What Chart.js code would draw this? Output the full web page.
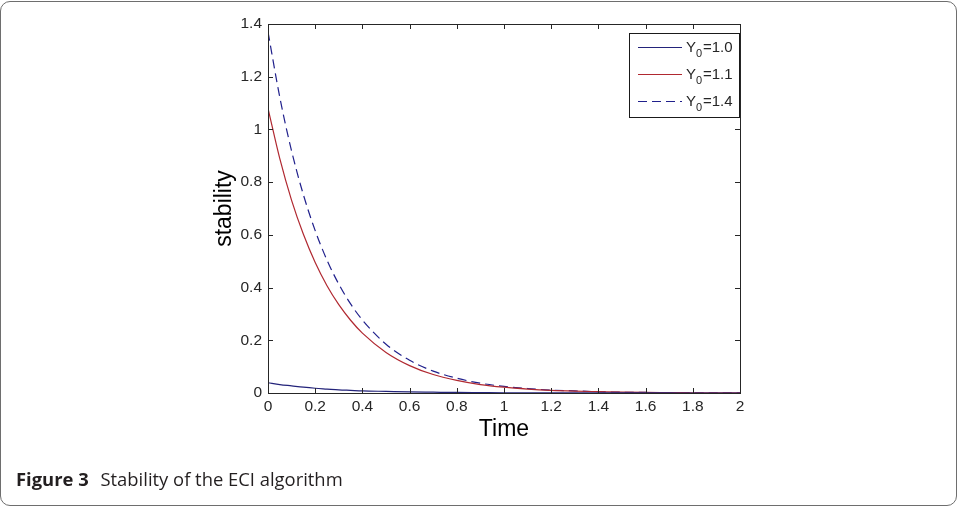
<!DOCTYPE html>
<html>
<head>
<meta charset="utf-8">
<script src="https://cdn.jsdelivr.net/npm/chart.js@4.4.1/dist/chart.umd.min.js"></script>
<style>
  body { margin: 0; background: #fff; }
  #frame {
    position: absolute; left: 0; top: 1px; width: 955px; height: 503px;
    border: 1px solid #6e6e6e; border-radius: 10px; box-sizing: content-box;
  }
  #wrap { position: absolute; left: 0; top: 0; width: 958px; height: 507px; }
  #caption {
    position: absolute; left: 16px; top: 466px;
    font-family: "Open Sans", sans-serif; font-size: 18.4px; color: #231f20;
  }
  #caption b { margin-right: 7px; }
</style>
</head>
<body>
<div id="frame"></div>
<div id="wrap"><canvas id="grafico" width="958" height="507"></canvas></div>
<div id="caption"><b>Figure 3</b> Stability of the ECI algorithm</div>
<script>
// dados
const tempo = [0, 0.05, 0.1, 0.15, 0.2, 0.25, 0.3, 0.35, 0.4, 0.5, 0.6, 0.7, 0.8, 0.9, 1.0,
  1.1, 1.2, 1.3, 1.4, 1.5, 1.6, 1.7, 1.8, 1.9, 2.0];
const y10 = [0.039, 0.032, 0.027, 0.022, 0.018, 0.015, 0.012, 0.010, 0.008, 0.006, 0.004, 0.003, 0.002, 0.0015, 0.001,
  0.0008, 0.0005, 0.0004, 0.0003, 0.0002, 0.0001, 0.0001, 0, 0, 0];
const y11 = [1.08, 0.889, 0.731, 0.602, 0.495, 0.407, 0.335, 0.276, 0.227, 0.154, 0.104, 0.070, 0.048, 0.032, 0.022,
  0.015, 0.010, 0.007, 0.005, 0.003, 0.002, 0.0015, 0.001, 0.0007, 0.0004];
const y14 = [1.37, 1.122, 0.918, 0.752, 0.616, 0.504, 0.413, 0.338, 0.277, 0.185, 0.124, 0.083, 0.056, 0.037, 0.025,
  0.017, 0.011, 0.008, 0.005, 0.003, 0.002, 0.0015, 0.001, 0.0007, 0.0004];
const legendas = ['1.0', '1.1', '1.4'];
const xTicks = ['0', '0.2', '0.4', '0.6', '0.8', '1', '1.2', '1.4', '1.6', '1.8', '2'];
const yTicks = ['0', '0.2', '0.4', '0.6', '0.8', '1', '1.2', '1.4'];

const pontos = arr => arr.map((v, i) => ({ x: tempo[i], y: v }));
const corEixo = '#262626';
const fonte = '"Liberation Sans", Arial, sans-serif';

// caixa, ticks para dentro e legenda no estilo matlab
const estiloMatlab = {
  id: 'estiloMatlab',
  afterDatasetsDraw(chart) {
    const ctx = chart.ctx;
    const a = chart.chartArea;
    const xs = chart.scales.x, ys = chart.scales.y;
    ctx.save();
    ctx.strokeStyle = corEixo;
    ctx.lineWidth = 1;
    ctx.strokeRect(Math.round(a.left) + 0.5, Math.round(a.top) + 0.5,
      Math.round(a.right - a.left), Math.round(a.bottom - a.top));
    ctx.beginPath();
    xs.ticks.forEach(t => {
      const px = Math.round(xs.getPixelForValue(t.value)) + 0.5;
      ctx.moveTo(px, a.bottom); ctx.lineTo(px, a.bottom - 5);
      ctx.moveTo(px, a.top); ctx.lineTo(px, a.top + 5);
    });
    ys.ticks.forEach(t => {
      const py = Math.round(ys.getPixelForValue(t.value)) + 0.5;
      ctx.moveTo(a.left, py); ctx.lineTo(a.left + 5, py);
      ctx.moveTo(a.right, py); ctx.lineTo(a.right - 5, py);
    });
    ctx.stroke();

    // legenda
    const bx = 629.5, by = 33.5, bw = 110, bh = 84;
    ctx.fillStyle = '#fff';
    ctx.fillRect(bx, by, bw, bh);
    ctx.strokeStyle = '#1a1a1a';
    ctx.strokeRect(bx, by, bw, bh);
    const linhas = [47.5, 74.5, 101.5];
    chart.data.datasets.forEach((ds, i) => {
      const yy = linhas[i];
      ctx.strokeStyle = ds.borderColor;
      ctx.lineWidth = 1.2;
      ctx.setLineDash(ds.borderDash || []);
      ctx.beginPath();
      ctx.moveTo(638, yy); ctx.lineTo(682, yy);
      ctx.stroke();
      ctx.setLineDash([]);
      ctx.fillStyle = corEixo;
      ctx.textBaseline = 'alphabetic';
      ctx.textAlign = 'left';
      ctx.font = '15px ' + fonte;
      ctx.fillText('Y', 686, yy + 4);
      ctx.font = '11px ' + fonte;
      ctx.fillText('0', 696, yy + 9);
      ctx.font = '15px ' + fonte;
      ctx.fillText('=' + legendas[i], 703, yy + 4);
    });
    ctx.restore();
  }
};

const ctx = document.getElementById('grafico').getContext('2d');
new Chart(ctx, {
  type: 'line',
  data: {
    datasets: [{
      label: 'Y0=' + legendas[0],
      data: pontos(y10),
      borderColor: '#23237a',
      borderWidth: 1.2
    }, {
      label: 'Y0=' + legendas[1],
      data: pontos(y11),
      borderColor: '#b02830',
      borderWidth: 1.2
    }, {
      label: 'Y0=' + legendas[2],
      data: pontos(y14),
      borderColor: '#20208c',
      borderWidth: 1.2,
      borderDash: [9, 5]
    }]
  },
  options: {
    responsive: false,
    animation: false,
    elements: { point: { radius: 0 }, line: { cubicInterpolationMode: 'monotone' } },
    layout: { padding: { left: 207, right: 218, top: 24, bottom: 60 } },
    plugins: { legend: { display: false }, tooltip: { enabled: false } },
    scales: {
      x: {
        type: 'linear', min: 0, max: 2,
        afterFit: s => { s.height = 54; },
        grid: { display: false, drawTicks: false },
        border: { display: false },
        ticks: {
          stepSize: 0.2, padding: 4, color: corEixo, maxRotation: 0,
          font: { family: fonte, size: 15.5 },
          callback: (v, i) => xTicks[i]
        },
        title: {
          display: true, text: 'Time', color: '#000',
          font: { family: fonte, size: 23 }
        }
      },
      y: {
        min: 0, max: 1.4,
        afterFit: s => { s.width = 61; },
        grid: { display: false, drawTicks: false },
        border: { display: false },
        ticks: {
          stepSize: 0.2, padding: 6, color: corEixo,
          font: { family: fonte, size: 15.5 },
          callback: (v, i) => yTicks[i]
        },
        title: {
          display: true, text: 'stability', color: '#000',
          font: { family: fonte, size: 23 }
        }
      }
    }
  },
  plugins: [estiloMatlab]
});
</script>
</body>
</html>
